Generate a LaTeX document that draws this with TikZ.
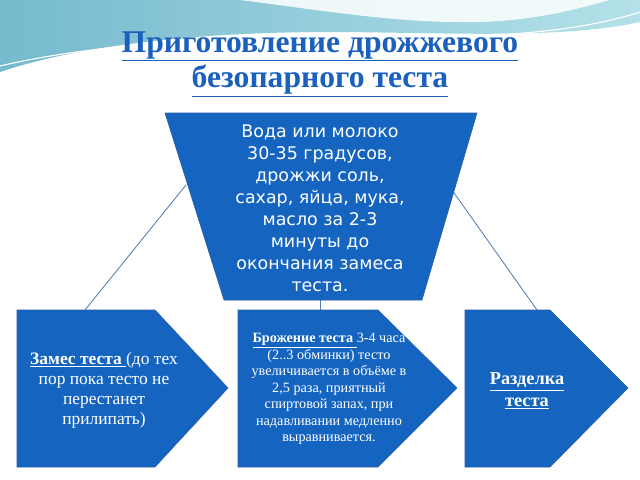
\documentclass[tikz,border=0pt]{standalone}
\usepackage{fontspec}
\setmainfont{Liberation Serif}
\newfontfamily\sansru{DejaVu Sans}
\definecolor{boxblue}{RGB}{21,101,192}
\definecolor{boxedge}{RGB}{40,92,165}
\definecolor{linkblue}{RGB}{85,125,175}
\definecolor{titleblue}{RGB}{28,96,190}
\definecolor{wavedark}{RGB}{118,186,206}
\definecolor{wavelight}{RGB}{180,225,233}
\tikzset{
  blok/.style={fill=boxblue,draw=boxedge,line width=0.4pt},
  link/.style={draw=linkblue,line width=0.6pt},
  txt/.style={text=white,align=center,inner sep=0pt}
}
\begin{document}
\begin{tikzpicture}[x=0.025cm,y=-0.025cm]
\useasboundingbox (0,0) rectangle (640,480);
% background
\shade [left color=wavedark,right color=wavelight] (0,0) -- (640,0) -- (640,22)
  .. controls (560,40) and (430,32) .. (330,32) .. controls (200,32) and (80,45) .. (0,72) -- cycle;
\fill [white,opacity=0.85] (240,0) .. controls (320,10) and (400,24) .. (480,22)
  .. controls (540,20) and (580,8) .. (610,0) -- cycle;
\draw [white,line width=0.8pt] (0,66) .. controls (90,45) and (200,38) .. (330,38)
  .. controls (450,38) and (560,38) .. (640,12);
% connectors
\coordinate (tl) at (186,185);
\coordinate (tr) at (452,190);
\coordinate (tb) at (320,300);
\coordinate (b1) at (85,310);
\coordinate (b2) at (320,310);
\coordinate (b3) at (537,310);
\draw [link] (tl) -- (b1);
\draw [link] (tb) -- (b2);
\draw [link] (tr) -- (b3);
% shapes
\path [blok] (165,113) -- (477,113) -- (422,300) -- (224,300) -- cycle;
\path [blok] (17,310) -- (155,310) -- (228,388) -- (155,467) -- (17,467) -- cycle;
\path [blok] (238,310) -- (378,310) -- (457,388) -- (378,467) -- (238,467) -- cycle;
\path [blok] (465,310) -- (550,310) -- (628,388) -- (550,467) -- (465,467) -- cycle;
% texts
\node [txt,text=titleblue,font=\fontsize{22.5}{25}\selectfont\bfseries] (title) at (320,64)
  {\underline{Приготовление дрожжевого}\\\underline{безопарного теста}};
\node [txt,font=\sansru\fontsize{12.4}{15.6}\selectfont] (mix) at (320,208)
  {Вода или молоко\\30-35 градусов,\\дрожжи соль,\\сахар, яйца, мука,\\масло за 2-3\\минуты до\\окончания замеса\\теста.};
\node [txt,font=\fontsize{12.4}{14.2}\selectfont] (zames) at (104,390)
  {\textbf{\underline{Замес теста\ }}(до тех\\пор пока тесто не\\перестанет\\прилипать)};
\node [txt,font=\fontsize{10.1}{11.8}\selectfont] (brozh) at (329,389)
  {\textbf{\underline{Брожение теста\ }}3-4 часа\\(2..3 обминки) тесто\\увеличивается в объёме в\\2,5 раза, приятный\\спиртовой запах, при\\надавливании медленно\\выравнивается.};
\node [txt,font=\fontsize{13}{15}\selectfont\bfseries] (razdelka) at (527,391)
  {\underline{Разделка}\\\underline{теста}};
\end{tikzpicture}
\end{document}
